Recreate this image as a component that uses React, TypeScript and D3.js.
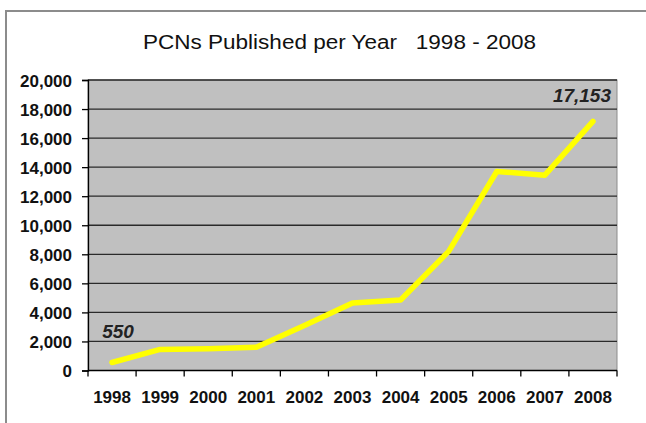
import React, { useRef, useEffect } from 'react';
import * as d3 from 'd3';

const years = ['1998', '1999', '2000', '2001', '2002', '2003', '2004', '2005', '2006', '2007', '2008'];
const pcns = [550, 1450, 1500, 1600, 3100, 4650, 4850, 8200, 13700, 13450, 17153];
const yTicks = [0, 2000, 4000, 6000, 8000, 10000, 12000, 14000, 16000, 18000, 20000];
const labelled = [0, 10]; // indexes of points that carry a value label

function PcnChart() {
  const svgRef = useRef<SVGSVGElement>(null);

  useEffect(() => {
    const width = 646;
    const height = 423;
    const plot = { left: 88, top: 80, right: 617, bottom: 370.5 };
    const font = 'Arial, "Liberation Sans", sans-serif';

    const svg = d3.select(svgRef.current).attr('width', width).attr('height', height);
    svg.selectAll('*').remove();

    // outer frame (right and bottom edges are cut off in the picture)
    svg
      .append('rect')
      .attr('x', 6)
      .attr('y', 11)
      .attr('width', width + 10)
      .attr('height', height + 10)
      .attr('fill', '#fff')
      .attr('stroke', '#8c8c8c')
      .attr('stroke-width', 2);

    svg
      .append('text')
      .attr('x', 143)
      .attr('y', 48.5)
      .attr('textLength', 393)
      .attr('lengthAdjust', 'spacingAndGlyphs')
      .attr('font-family', font)
      .attr('font-size', 19.5)
      .attr('fill', '#111')
      .style('white-space', 'pre')
      .text('PCNs Published per Year   1998 - 2008');

    const xScale = d3.scaleBand().domain(years).range([plot.left, plot.right]);
    const yScale = d3.scaleLinear().domain([0, 20000]).range([plot.bottom, plot.top]);

    // plot area
    svg
      .append('rect')
      .attr('x', plot.left)
      .attr('y', plot.top)
      .attr('width', plot.right - plot.left)
      .attr('height', plot.bottom - plot.top)
      .attr('fill', '#c0c0c0')
      .attr('stroke', '#8c8c8c')
      .attr('stroke-width', 1);

    // gridlines
    svg
      .selectAll('.grid')
      .data(yTicks.slice(1))
      .join('line')
      .attr('class', 'grid')
      .attr('x1', plot.left)
      .attr('x2', plot.right)
      .attr('y1', (d) => yScale(d))
      .attr('y2', (d) => yScale(d))
      .attr('stroke', '#2a2a2a')
      .attr('stroke-width', 1.3);

    // y axis
    const yAxis = svg
      .append('g')
      .attr('transform', `translate(${plot.left},0)`)
      .call(
        d3
          .axisLeft(yScale)
          .tickValues(yTicks)
          .tickSize(6)
          .tickPadding(10)
          .tickFormat(d3.format(','))
      );
    yAxis.select('.domain').attr('stroke', '#000').attr('stroke-width', 1.3);
    yAxis.selectAll('.tick line').attr('stroke', '#000').attr('stroke-width', 1.3);
    yAxis
      .selectAll('.tick text')
      .attr('font-family', font)
      .attr('font-size', 17)
      .attr('font-weight', 'bold')
      .attr('fill', '#111')
      .attr('dy', '0.36em');

    // x axis, ticks between categories
    const xAxis = svg.append('g').attr('transform', `translate(0,${plot.bottom})`);
    xAxis
      .append('line')
      .attr('x1', plot.left)
      .attr('x2', plot.right)
      .attr('stroke', '#000')
      .attr('stroke-width', 1.3);
    const bounds = years.map((y) => xScale(y) as number).concat([plot.right]);
    xAxis
      .selectAll('.xtick')
      .data(bounds)
      .join('line')
      .attr('class', 'xtick')
      .attr('x1', (d) => d)
      .attr('x2', (d) => d)
      .attr('y1', 0)
      .attr('y2', 6)
      .attr('stroke', '#000')
      .attr('stroke-width', 1.3);
    xAxis
      .selectAll('.xlabel')
      .data(years)
      .join('text')
      .attr('class', 'xlabel')
      .attr('x', (d) => (xScale(d) as number) + xScale.bandwidth() / 2)
      .attr('y', 32)
      .attr('text-anchor', 'middle')
      .attr('font-family', font)
      .attr('font-size', 17)
      .attr('font-weight', 'bold')
      .attr('fill', '#111')
      .text((d) => d);

    const cx = (i: number) => (xScale(years[i]) as number) + xScale.bandwidth() / 2;

    // the series
    const line = d3
      .line<number>()
      .x((d, i) => cx(i))
      .y((d) => yScale(d));
    svg
      .append('path')
      .datum(pcns)
      .attr('d', line)
      .attr('fill', 'none')
      .attr('stroke', '#ffff00')
      .attr('stroke-width', 5.5)
      .attr('stroke-linejoin', 'round')
      .attr('stroke-linecap', 'round');

    // value labels
    svg
      .selectAll('.vlabel')
      .data(labelled)
      .join('text')
      .attr('class', 'vlabel')
      .attr('x', (i) => (i === 0 ? cx(i) + 6 : cx(i) - 11))
      .attr('y', (i) => (i === 0 ? yScale(pcns[i]) - 25 : yScale(pcns[i]) - 19.5))
      .attr('text-anchor', 'middle')
      .attr('font-family', font)
      .attr('font-size', 19)
      .attr('font-weight', 'bold')
      .attr('font-style', 'italic')
      .attr('fill', '#222')
      .text((i) => d3.format(',')(pcns[i]));
  }, []);

  return <svg ref={svgRef} style={{ position: 'absolute', left: 0, top: 0 }} />;
}

export default function App() {
  return <PcnChart />;
}
